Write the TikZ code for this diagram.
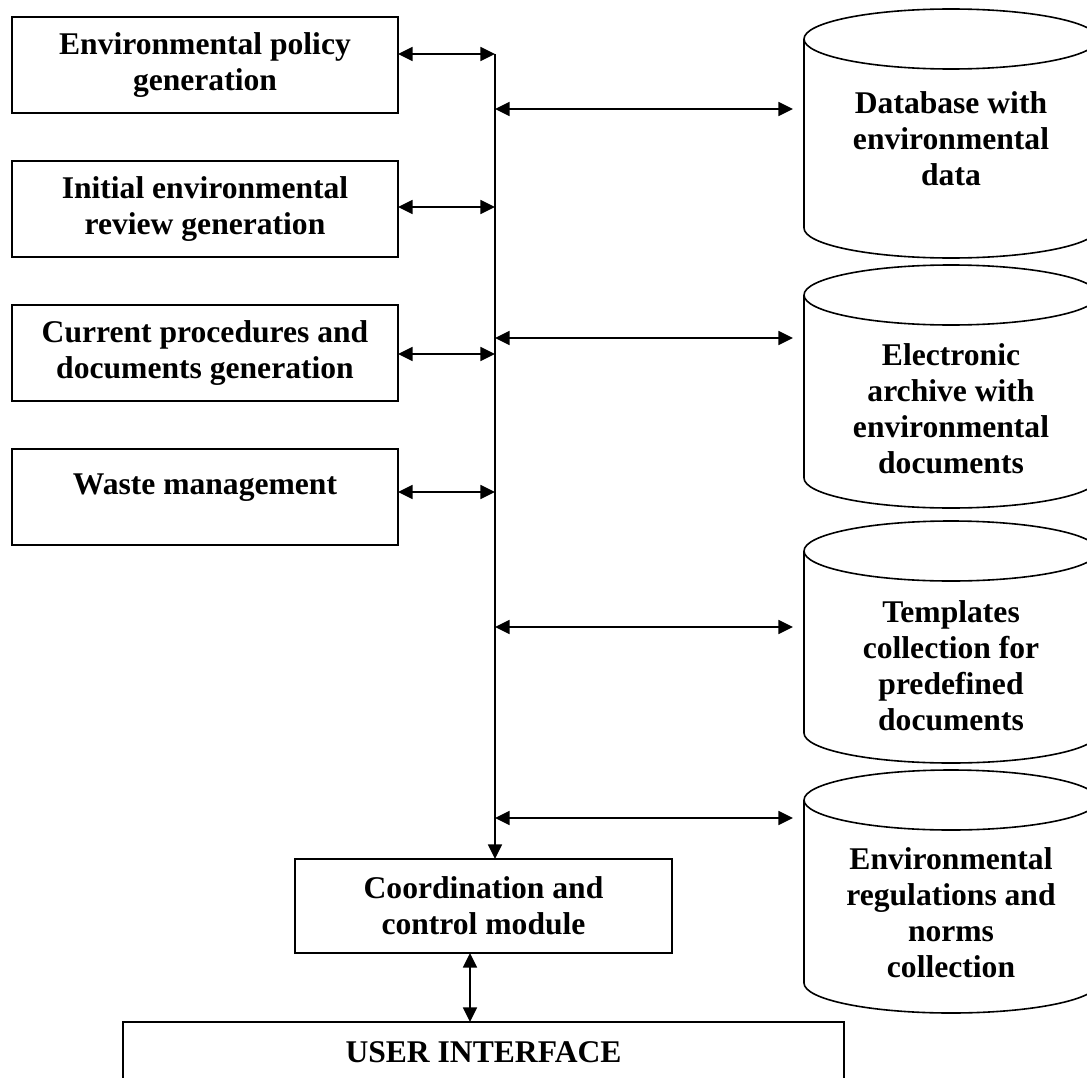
\documentclass[tikz,border=0pt]{standalone}
\usepackage{fontspec}
\setmainfont{Liberation Serif}
\usetikzlibrary{arrows.meta}
\begin{document}
\begin{tikzpicture}[x=0.75pt,y=-0.75pt,
  every node/.style={font=\fontsize{23.7pt}{27pt}\selectfont\bfseries,
    align=center, inner sep=0pt, outer sep=0pt},
  modbox/.style={draw, line width=1.4pt, minimum width=289.5pt, minimum height=72pt},
  ctlbox/.style={draw, line width=1.4pt, minimum width=282.75pt, minimum height=70.5pt},
  uibox/.style={draw, line width=1.4pt, minimum width=540.75pt, minimum height=45pt},
  dbbody/.style={minimum width=220.5pt},
  dbline/.style={line width=1.2pt},
  conn/.style={line width=1.3pt},
  biarr/.style={conn, {Triangle[length=11pt,width=10.5pt]}-{Triangle[length=11pt,width=10.5pt]}},
  downarr/.style={conn, -{Triangle[length=11pt,width=10.5pt]}}
]
\useasboundingbox (0,0) rectangle (1087,1077);
\clip (0,0) rectangle (1087,1077);

% functional modules on the left
\node[modbox] (b1) at (205,65) {Environmental policy\\generation};
\node[modbox] (b2) at (205,209) {Initial environmental\\review generation};
\node[modbox] (b3) at (205,353) {Current procedures and\\documents generation};
\node[modbox] (b4) at (205,497) {};
\node (b4t) at (205,488) {Waste management};

% coordination module and user interface
\node[ctlbox] (ctl) at (483.5,906) {Coordination and\\control module};
\node[uibox] (ui) at (483.5,1052) {USER INTERFACE};

% data stores (cylinders)
\node[dbbody, minimum height=141.75pt] (c1) at (951,133.5) {};
\node[dbbody, minimum height=137.25pt] (c2) at (951,386.5) {};
\node[dbbody, minimum height=136.5pt] (c3) at (951,642) {};
\node[dbbody, minimum height=137.25pt] (c4) at (951,891.5) {};
\foreach \c in {c1,c2,c3,c4}{
  \draw[dbline] (\c.north west) -- (\c.south west)
    arc[start angle=180, end angle=360, x radius=110.25pt, y radius=22.5pt]
    -- (\c.north east);
  \draw[dbline] (\c.north) ellipse[x radius=110.25pt, y radius=22.5pt];
}
\node (t1) at (951,139) {Database with\\environmental\\data};
\node (t2) at (951,409) {Electronic\\archive with\\environmental\\documents};
\node (t3) at (951,666) {Templates\\collection for\\predefined\\documents};
\node (t4) at (951,913) {Environmental\\regulations and\\norms\\collection};

% junction points on the common bus
\coordinate (l1) at (495,54);
\coordinate (l2) at (495,207);
\coordinate (l3) at (495,354);
\coordinate (l4) at (495,492);
\coordinate (r1) at (495,109);
\coordinate (r2) at (495,338);
\coordinate (r3) at (495,627);
\coordinate (r4) at (495,818);
\coordinate (v) at (470,0);

% common bus down to the coordination module
\draw[downarr] (l1) -- (l1 |- ctl.north);

% modules <-> bus
\draw[biarr] (b1.east |- l1) -- (l1);
\draw[biarr] (b2.east |- l2) -- (l2);
\draw[biarr] (b3.east |- l3) -- (l3);
\draw[biarr] (b4.east |- l4) -- (l4);

% bus <-> data stores
\draw[biarr, shorten >=8.25pt] (r1) -- (r1 -| c1.west);
\draw[biarr, shorten >=8.25pt] (r2) -- (r2 -| c2.west);
\draw[biarr, shorten >=8.25pt] (r3) -- (r3 -| c3.west);
\draw[biarr, shorten >=8.25pt] (r4) -- (r4 -| c4.west);

% coordination module <-> user interface
\draw[biarr] (ctl.south -| v) -- (ui.north -| v);
\end{tikzpicture}
\end{document}
